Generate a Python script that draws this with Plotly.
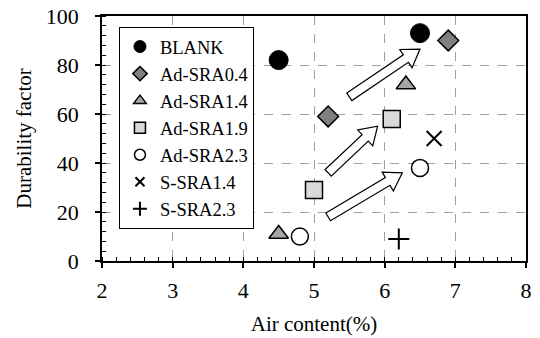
import plotly.graph_objects as go
import math

# ---- data ----
series_names = ["BLANK", "Ad-SRA0.4", "Ad-SRA1.4", "Ad-SRA1.9", "Ad-SRA2.3", "S-SRA1.4", "S-SRA2.3"]
air_blank = [4.5, 6.5];      df_blank = [82, 93]
air_ad04 = [5.2, 6.9];       df_ad04 = [59, 90]
air_ad14 = [4.5, 6.3];       df_ad14 = [11, 72]
air_ad19 = [5.0, 6.1];       df_ad19 = [29, 58]
air_ad23 = [4.8, 6.5];       df_ad23 = [10, 38]
air_s14 = [6.7];             df_s14 = [50]
air_s23 = [6.2];             df_s23 = [9]

x_ticks = [2, 3, 4, 5, 6, 7, 8]
y_ticks = [0, 20, 40, 60, 80, 100]

# arrows: (tail x, tail y, tip x, tip y)
arrows = [(5.5, 67, 6.5, 86.5), (5.2, 36, 5.9, 55), (5.2, 18, 6.25, 36)]

# ---- layout geometry ----
W, H = 540, 338
ML, MR, MT, MB = 102, 14, 16, 77
PW, PH = W - ML - MR, H - MT - MB
XR, YR = (2, 8), (0, 100)

def to_px(x, y):
    return ((x - XR[0]) / (XR[1] - XR[0]) * PW, (y - YR[0]) / (YR[1] - YR[0]) * PH)

def to_data(px, py):
    return (XR[0] + px / PW * (XR[1] - XR[0]), YR[0] + py / PH * (YR[1] - YR[0]))

def arrow_path(x0, y0, x1, y1, sw=4.5, hw=11, hl=17):
    ax, ay = to_px(x0, y0)
    bx, by = to_px(x1, y1)
    L = math.hypot(bx - ax, by - ay)
    ux, uy = (bx - ax) / L, (by - ay) / L
    nx, ny = -uy, ux
    cx, cy = bx - ux * hl, by - uy * hl
    pts = [
        (ax + nx * sw, ay + ny * sw),
        (cx + nx * sw, cy + ny * sw),
        (cx + nx * hw, cy + ny * hw),
        (bx, by),
        (cx - nx * hw, cy - ny * hw),
        (cx - nx * sw, cy - ny * sw),
        (ax - nx * sw, ay - ny * sw),
    ]
    d = [to_data(px, py) for px, py in pts]
    return "M " + " L ".join(f"{x:.4f},{y:.4f}" for x, y in d) + " Z"

fig = go.Figure()

specs = [
    (series_names[0], air_blank, df_blank, dict(symbol="circle", color="black", line=dict(color="black", width=1)), 19, 12),
    (series_names[1], air_ad04, df_ad04, dict(symbol="diamond", color="#808080", line=dict(color="black", width=1.5)), 16, 11),
    (series_names[2], air_ad14, df_ad14, dict(symbol="triangle-up", color="#a6a6a6", line=dict(color="black", width=1.5)), 17, 11),
    (series_names[3], air_ad19, df_ad19, dict(symbol="square", color="#d9d9d9", line=dict(color="black", width=1.5)), 17, 11),
    (series_names[4], air_ad23, df_ad23, dict(symbol="circle", color="white", line=dict(color="black", width=1.5)), 17, 11),
    (series_names[5], air_s14, df_s14, dict(symbol="x-thin", color="black", line=dict(color="black", width=2)), 15, 9),
    (series_names[6], air_s23, df_s23, dict(symbol="cross-thin", color="black", line=dict(color="black", width=2)), 15, 10),
]
for i, (name, xs, ys, mk, sz, lsz) in enumerate(specs):
    fig.add_trace(go.Scatter(x=xs, y=ys, mode="markers", name=name, marker=dict(size=sz, **mk),
                             legendgroup=f"g{i}", showlegend=False, cliponaxis=False))
    fig.add_trace(go.Scatter(x=[None], y=[None], mode="markers", name=name, marker=dict(size=lsz, **mk),
                             legendgroup=f"g{i}", showlegend=True))

shapes = []
for a in arrows:
    shapes.append(dict(type="path", path=arrow_path(*a), xref="x", yref="y",
                       fillcolor="white", line=dict(color="black", width=1.2), layer="above"))

font = "Liberation Serif"
axis_common = dict(showline=True, linecolor="black", linewidth=1.5, mirror=True,
                   ticks="outside", ticklen=5, tickwidth=1.5, tickcolor="black",
                   showgrid=True, gridcolor="#a0a0a0", griddash="dash", gridwidth=1,
                   zeroline=False, automargin=False,
                   tickfont=dict(family=font, size=22, color="black"))

overlay_common = dict(showline=False, showgrid=False, zeroline=False, showticklabels=False,
                      ticks="inside", ticklen=5, tickwidth=1.5, tickcolor="black", automargin=False)

fig.update_layout(
    width=W, height=H,
    margin=dict(l=ML, r=MR, t=MT, b=MB),
    plot_bgcolor="white", paper_bgcolor="white",
    font=dict(family=font, color="black"),
    shapes=shapes,
    showlegend=True,
    legend=dict(x=0.04, y=0.955, xanchor="left", yanchor="top",
                bgcolor="white", bordercolor="black", borderwidth=1,
                font=dict(family=font, size=18.5, color="black"),
                traceorder="grouped", tracegroupgap=0, itemwidth=30),
    xaxis=dict(range=list(XR), tickvals=x_ticks, **axis_common, ticklabelstandoff=4,
               minor=dict(dtick=0.2, ticks="inside", ticklen=4, tickcolor="black", tickwidth=1.2, showgrid=False),
               title=dict(text="Air content(%)", font=dict(family=font, size=21, color="black"), standoff=14)),
    yaxis=dict(range=list(YR), tickvals=y_ticks, **axis_common, ticklabelstandoff=12,
               minor=dict(dtick=4, ticks="inside", ticklen=4, tickcolor="black", tickwidth=1.2, showgrid=False),
               title=dict(text="Durability factor", font=dict(family=font, size=21, color="black"), standoff=8)),
    xaxis2=dict(range=list(XR), tickvals=x_ticks, overlaying="x", side="bottom", anchor="y", **overlay_common),
    yaxis2=dict(range=list(YR), tickvals=y_ticks, overlaying="y", side="left", anchor="x", **overlay_common),
)

fig.write_html("out.html")
